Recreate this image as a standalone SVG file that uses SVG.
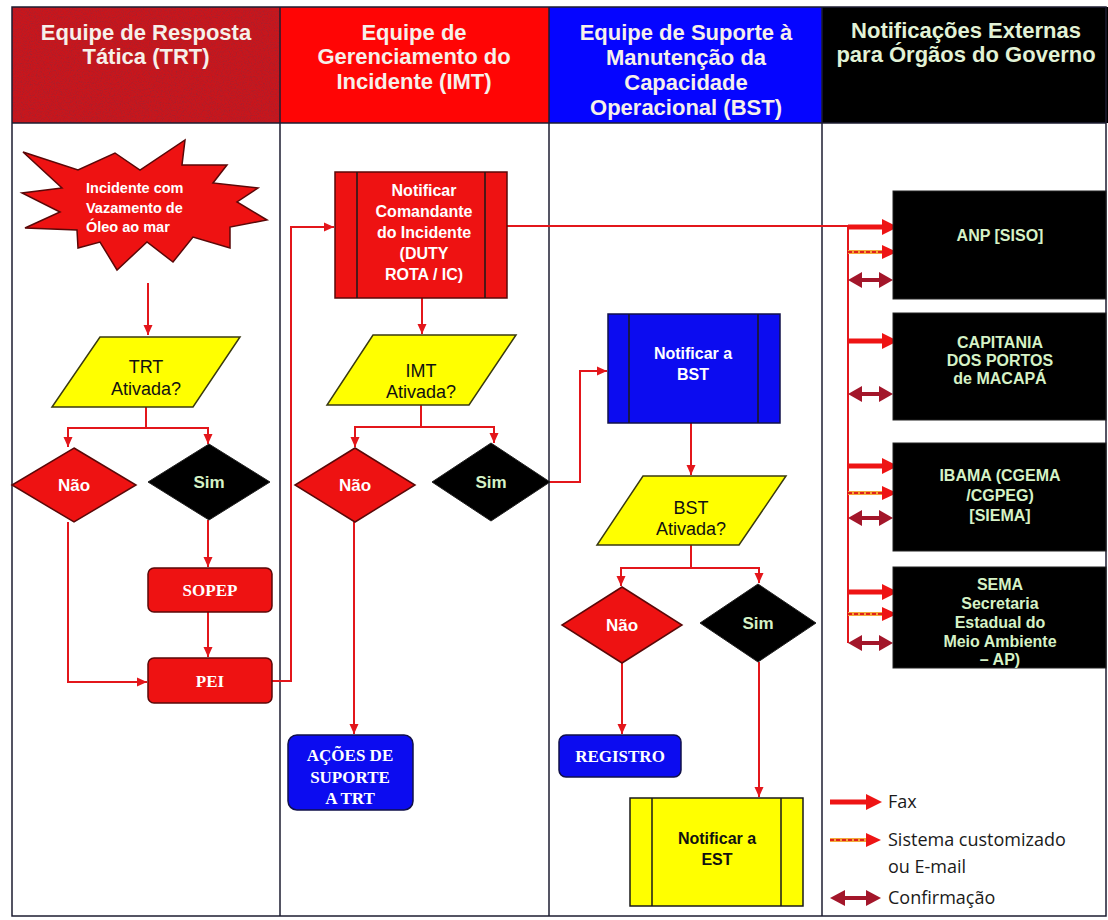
<svg xmlns="http://www.w3.org/2000/svg" width="1108" height="920" viewBox="0 0 1108 920">
  <style>
    .hdr { font-family: "Liberation Sans", Arial, sans-serif; font-weight: bold; font-size: 22px; text-anchor: middle; fill: #f6f0ea; }
    .hdr4 { fill: #e2f2d6; }
    .frame { stroke: #1c1c30; stroke-width: 1.5; fill: none; }
    .conn { stroke: #e3161b; stroke-width: 2; fill: none; }
    .lbl { font-family: "Liberation Sans", Arial, sans-serif; font-weight: bold; font-size: 16px; text-anchor: middle; }
    .q { font-family: "Liberation Sans", Arial, sans-serif; font-size: 18px; text-anchor: middle; fill: #111; }
    .serif { font-family: "Liberation Serif", "Times New Roman", serif; font-weight: bold; font-size: 17px; text-anchor: middle; fill: #fff; }
    .white { fill: #fff; }
    .green { fill: #d6f2c6; }
    .black { fill: #111; }
    .redbox { fill: #ee1212; stroke: #5a0808; stroke-width: 1.5; }
    .yellow { fill: #ffff00; stroke: #3a3a10; stroke-width: 1.5; }
    .bluebox { fill: #0c0cf0; stroke: #10104a; stroke-width: 1.5; }
    .blk { fill: #000; stroke: #222; stroke-width: 1; }
    .inner { stroke: #1a1a1a; stroke-width: 1.5; }
    .legend { font-family: "Open Sans", "Noto Sans", sans-serif; font-size: 18px; fill: #1a1a1a; }
    .fax { stroke: #ee1414; stroke-width: 5; fill: none; }
    .faxhead { fill: #ee1414; }
    .custom { stroke: #f3a73a; stroke-width: 4; fill: none; }
    .customdash { stroke: #e0201c; stroke-width: 2; stroke-dasharray: 4 2; fill: none; }
    .conf { stroke: #a3162a; stroke-width: 4; fill: none; }
    .confhead { fill: #a3162a; }
  </style>
  <defs>
    <marker id="arr" markerUnits="userSpaceOnUse" markerWidth="10" markerHeight="10" refX="10" refY="5" orient="auto">
      <path d="M0,0.5 L10,5 L0,9.5 z" fill="#e3161b"/>
    </marker>
    <filter id="grain" x="0" y="0" width="100%" height="100%">
      <feTurbulence type="fractalNoise" baseFrequency="0.85" numOctaves="2" seed="7"/>
      <feColorMatrix type="matrix" values="0 0 0 0 0.3  0 0 0 0 0.02  0 0 0 0 0.04  3 0 0 0 -1.35"/>
      <feComposite in2="SourceGraphic" operator="in"/>
    </filter>
  </defs>

  <!-- background -->
  <rect x="0" y="0" width="1108" height="920" fill="#fff"/>

  <!-- column headers -->
  <g id="headers">
    <rect x="12" y="7" width="268" height="116" fill="#c8161c"/>
    <rect x="12" y="7" width="268" height="116" fill="#c8161c" filter="url(#grain)" opacity="0.6"/>
    <rect x="280" y="7" width="269" height="116" fill="#ff0505"/>
    <rect x="549" y="7" width="273" height="116" fill="#0505ff"/>
    <rect x="822" y="7" width="286" height="116" fill="#000"/>
    <text class="hdr" x="146" y="40">Equipe de Resposta</text>
    <text class="hdr" x="146" y="64">Tática (TRT)</text>
    <text class="hdr" x="414" y="40">Equipe de</text>
    <text class="hdr" x="414" y="64">Gerenciamento do</text>
    <text class="hdr" x="414" y="89">Incidente (IMT)</text>
    <text class="hdr" x="686" y="40">Equipe de Suporte à</text>
    <text class="hdr" x="686" y="65">Manutenção da</text>
    <text class="hdr" x="686" y="90">Capacidade</text>
    <text class="hdr" x="686" y="115">Operacional (BST)</text>
    <text class="hdr hdr4" x="966" y="38">Notificações Externas</text>
    <text class="hdr hdr4" x="966" y="62">para Órgãos do Governo</text>
  </g>

  <!-- swimlane frame -->
  <g id="lanes" class="frame">
    <rect x="12" y="7" width="1094" height="909"/>
    <line x1="12" y1="123" x2="1106" y2="123"/>
    <line x1="280" y1="7" x2="280" y2="916"/>
    <line x1="549" y1="7" x2="549" y2="916"/>
    <line x1="822" y1="7" x2="822" y2="916"/>
  </g>

  <!-- connectors -->
  <g id="connectors">
    <path class="conn" d="M148,283 V335" marker-end="url(#arr)"/>
    <path class="conn" d="M146,407 V428 H68 V447" marker-end="url(#arr)"/>
    <path class="conn" d="M146,428 H208 V444" marker-end="url(#arr)"/>
    <path class="conn" d="M208,520 V567" marker-end="url(#arr)"/>
    <path class="conn" d="M208,612 V657" marker-end="url(#arr)"/>
    <path class="conn" d="M68,522 V682 H147" marker-end="url(#arr)"/>
    <path class="conn" d="M272,681 H291 V227 H334" marker-end="url(#arr)"/>
    <path class="conn" d="M422,298 V334" marker-end="url(#arr)"/>
    <path class="conn" d="M421,405 V427 H355 V447" marker-end="url(#arr)"/>
    <path class="conn" d="M421,427 H494 V443" marker-end="url(#arr)"/>
    <path class="conn" d="M354,522 V734" marker-end="url(#arr)"/>
    <path class="conn" d="M550,482 H580 V371 H607" marker-end="url(#arr)"/>
    <path class="conn" d="M691,423 V475" marker-end="url(#arr)"/>
    <path class="conn" d="M691,545 V568 H621 V586" marker-end="url(#arr)"/>
    <path class="conn" d="M691,568 H759 V583" marker-end="url(#arr)"/>
    <path class="conn" d="M622,663 V734" marker-end="url(#arr)"/>
    <path class="conn" d="M759,662 V797" marker-end="url(#arr)"/>
    <path class="conn" d="M507,226 H848 V643"/>

    <!-- notification arrows: ANP -->
    <path class="fax" d="M848,227 H884"/>
    <path class="faxhead" d="M882,219 L898,227 L882,235 z"/>
    <path class="custom" d="M848,252 H884"/>
    <path class="customdash" d="M848,252 H884"/>
    <path class="faxhead" d="M882,245 L897,252 L882,259 z"/>
    <path class="conf" d="M860,280 H882"/>
    <path class="confhead" d="M862,272 L848,280 L862,288 z M879,272 L893,280 L879,288 z"/>

    <!-- CAPITANIA -->
    <path class="fax" d="M848,341 H884"/>
    <path class="faxhead" d="M882,333 L898,341 L882,349 z"/>
    <path class="conf" d="M860,394 H882"/>
    <path class="confhead" d="M862,386 L848,394 L862,402 z M879,386 L893,394 L879,402 z"/>

    <!-- IBAMA -->
    <path class="fax" d="M848,466 H884"/>
    <path class="faxhead" d="M882,458 L898,466 L882,474 z"/>
    <path class="custom" d="M848,493 H884"/>
    <path class="customdash" d="M848,493 H884"/>
    <path class="faxhead" d="M882,486 L897,493 L882,500 z"/>
    <path class="conf" d="M860,518 H882"/>
    <path class="confhead" d="M862,510 L848,518 L862,526 z M879,510 L893,518 L879,526 z"/>

    <!-- SEMA -->
    <path class="fax" d="M848,592 H884"/>
    <path class="faxhead" d="M882,584 L898,592 L882,600 z"/>
    <path class="custom" d="M848,614 H884"/>
    <path class="customdash" d="M848,614 H884"/>
    <path class="faxhead" d="M882,607 L897,614 L882,621 z"/>
    <path class="conf" d="M860,643 H882"/>
    <path class="confhead" d="M862,635 L848,643 L862,651 z M879,635 L893,643 L879,651 z"/>
  </g>

  <!-- TRT lane -->
  <g id="incidente">
    <polygon class="redbox" points="23,152 78,170 115,153 140,170 185,140 182,165 227,165 213,183 258,188 237,202 267,220 230,227 230,248 193,237 173,262 147,242 117,270 100,242 78,248 77,230 25,228 60,212 22,193 62,188"/>
    <g class="lbl white" style="font-size:14.5px;text-anchor:start">
      <text x="86" y="193">Incidente  com</text>
      <text x="86" y="213">Vazamento de</text>
      <text x="86" y="232">Óleo ao mar</text>
    </g>
  </g>
  <g id="trt-ativada">
    <polygon class="yellow" points="100,337 240,337 193,407 52,407"/>
    <text class="q" x="146" y="373">TRT</text>
    <text class="q" x="146" y="395">Ativada?</text>
  </g>
  <g id="trt-nao">
    <polygon class="redbox" points="74,448 136,485 74,522 12,485"/>
    <text class="lbl white" x="74" y="491" style="font-size:17px">Não</text>
  </g>
  <g id="trt-sim">
    <polygon class="blk" points="209,444 270,482 209,520 148,482"/>
    <text class="lbl green" x="209" y="488" style="font-size:17px">Sim</text>
  </g>
  <g id="sopep">
    <rect class="redbox" x="148" y="568" width="124" height="44" rx="6"/>
    <text class="serif" x="210" y="596">SOPEP</text>
  </g>
  <g id="pei">
    <rect class="redbox" x="148" y="658" width="124" height="45" rx="6"/>
    <text class="serif" x="210" y="687">PEI</text>
  </g>

  <!-- IMT lane -->
  <g id="notificar-ic">
    <rect class="redbox" x="335" y="172" width="172" height="126"/>
    <line class="inner" x1="357" y1="172" x2="357" y2="298"/>
    <line class="inner" x1="485" y1="172" x2="485" y2="298"/>
    <g class="lbl white">
      <text x="424" y="196">Notificar</text>
      <text x="424" y="217">Comandante</text>
      <text x="424" y="238">do Incidente</text>
      <text x="424" y="259">(DUTY</text>
      <text x="424" y="280">ROTA / IC)</text>
    </g>
  </g>
  <g id="imt-ativada">
    <polygon class="yellow" points="373,335 516,335 469,405 327,405"/>
    <text class="q" x="421" y="377">IMT</text>
    <text class="q" x="421" y="398">Ativada?</text>
  </g>
  <g id="imt-nao">
    <polygon class="redbox" points="355,448 415,485 355,522 295,485"/>
    <text class="lbl white" x="355" y="491" style="font-size:17px">Não</text>
  </g>
  <g id="imt-sim">
    <polygon class="blk" points="491,443 550,482 491,521 432,482"/>
    <text class="lbl green" x="491" y="488" style="font-size:17px">Sim</text>
  </g>
  <g id="acoes-suporte">
    <rect class="bluebox" x="288" y="735" width="125" height="75" rx="9"/>
    <g class="serif">
      <text x="350" y="761">AÇÕES DE</text>
      <text x="350" y="783">SUPORTE</text>
      <text x="350" y="804">A TRT</text>
    </g>
  </g>

  <!-- BST lane -->
  <g id="notificar-bst">
    <rect class="bluebox" x="608" y="314" width="172" height="109"/>
    <line class="inner" x1="629" y1="314" x2="629" y2="423"/>
    <line class="inner" x1="758" y1="314" x2="758" y2="423"/>
    <text class="lbl white" x="693" y="359">Notificar a</text>
    <text class="lbl white" x="693" y="380">BST</text>
  </g>
  <g id="bst-ativada">
    <polygon class="yellow" points="643,476 786,476 739,545 597,545"/>
    <text class="q" x="691" y="514">BST</text>
    <text class="q" x="691" y="535">Ativada?</text>
  </g>
  <g id="bst-nao">
    <polygon class="redbox" points="622,587 682,625 622,663 562,625"/>
    <text class="lbl white" x="622" y="631" style="font-size:17px">Não</text>
  </g>
  <g id="bst-sim">
    <polygon class="blk" points="758,584 816,623 758,662 700,623"/>
    <text class="lbl green" x="758" y="629" style="font-size:17px">Sim</text>
  </g>
  <g id="registro">
    <rect class="bluebox" x="559" y="735" width="122" height="42" rx="7"/>
    <text class="serif" x="620" y="762">REGISTRO</text>
  </g>
  <g id="notificar-est">
    <rect x="630" y="798" width="173" height="108" fill="#ffff00" stroke="#1a1a1a" stroke-width="1.5"/>
    <line class="inner" x1="652" y1="798" x2="652" y2="906"/>
    <line class="inner" x1="781" y1="798" x2="781" y2="906"/>
    <text class="lbl black" x="717" y="844">Notificar a</text>
    <text class="lbl black" x="717" y="865">EST</text>
  </g>

  <!-- external agencies -->
  <g id="anp">
    <rect class="blk" x="893" y="191" width="213" height="108"/>
    <text class="lbl green" x="1000" y="241">ANP [SISO]</text>
  </g>
  <g id="capitania">
    <rect class="blk" x="893" y="313" width="213" height="107"/>
    <g class="lbl green">
      <text x="1000" y="348">CAPITANIA</text>
      <text x="1000" y="366">DOS PORTOS</text>
      <text x="1000" y="384">de MACAPÁ</text>
    </g>
  </g>
  <g id="ibama">
    <rect class="blk" x="893" y="443" width="213" height="108"/>
    <g class="lbl green">
      <text x="1000" y="481">IBAMA (CGEMA</text>
      <text x="1000" y="501">/CGPEG)</text>
      <text x="1000" y="521">[SIEMA]</text>
    </g>
  </g>
  <g id="sema">
    <rect class="blk" x="893" y="567" width="213" height="101"/>
    <g class="lbl green">
      <text x="1000" y="590">SEMA</text>
      <text x="1000" y="609">Secretaria</text>
      <text x="1000" y="628">Estadual do</text>
      <text x="1000" y="647">Meio Ambiente</text>
      <text x="1000" y="665">– AP)</text>
    </g>
  </g>

  <!-- legend -->
  <g id="legend">
    <path class="fax" d="M830,802 H868"/>
    <path class="faxhead" d="M866,794 L882,802 L866,810 z"/>
    <text class="legend" x="888" y="808">Fax</text>
    <path class="custom" d="M830,840 H868"/>
    <path class="customdash" d="M830,840 H868"/>
    <path class="faxhead" d="M866,833 L881,840 L866,847 z"/>
    <text class="legend" x="888" y="846">Sistema customizado</text>
    <text class="legend" x="888" y="873">ou E-mail</text>
    <path class="conf" d="M842,898 H870"/>
    <path class="confhead" d="M845,890 L830,898 L845,906 z M866,890 L881,898 L866,906 z"/>
    <text class="legend" x="888" y="904">Confirmação</text>
  </g>
</svg>
